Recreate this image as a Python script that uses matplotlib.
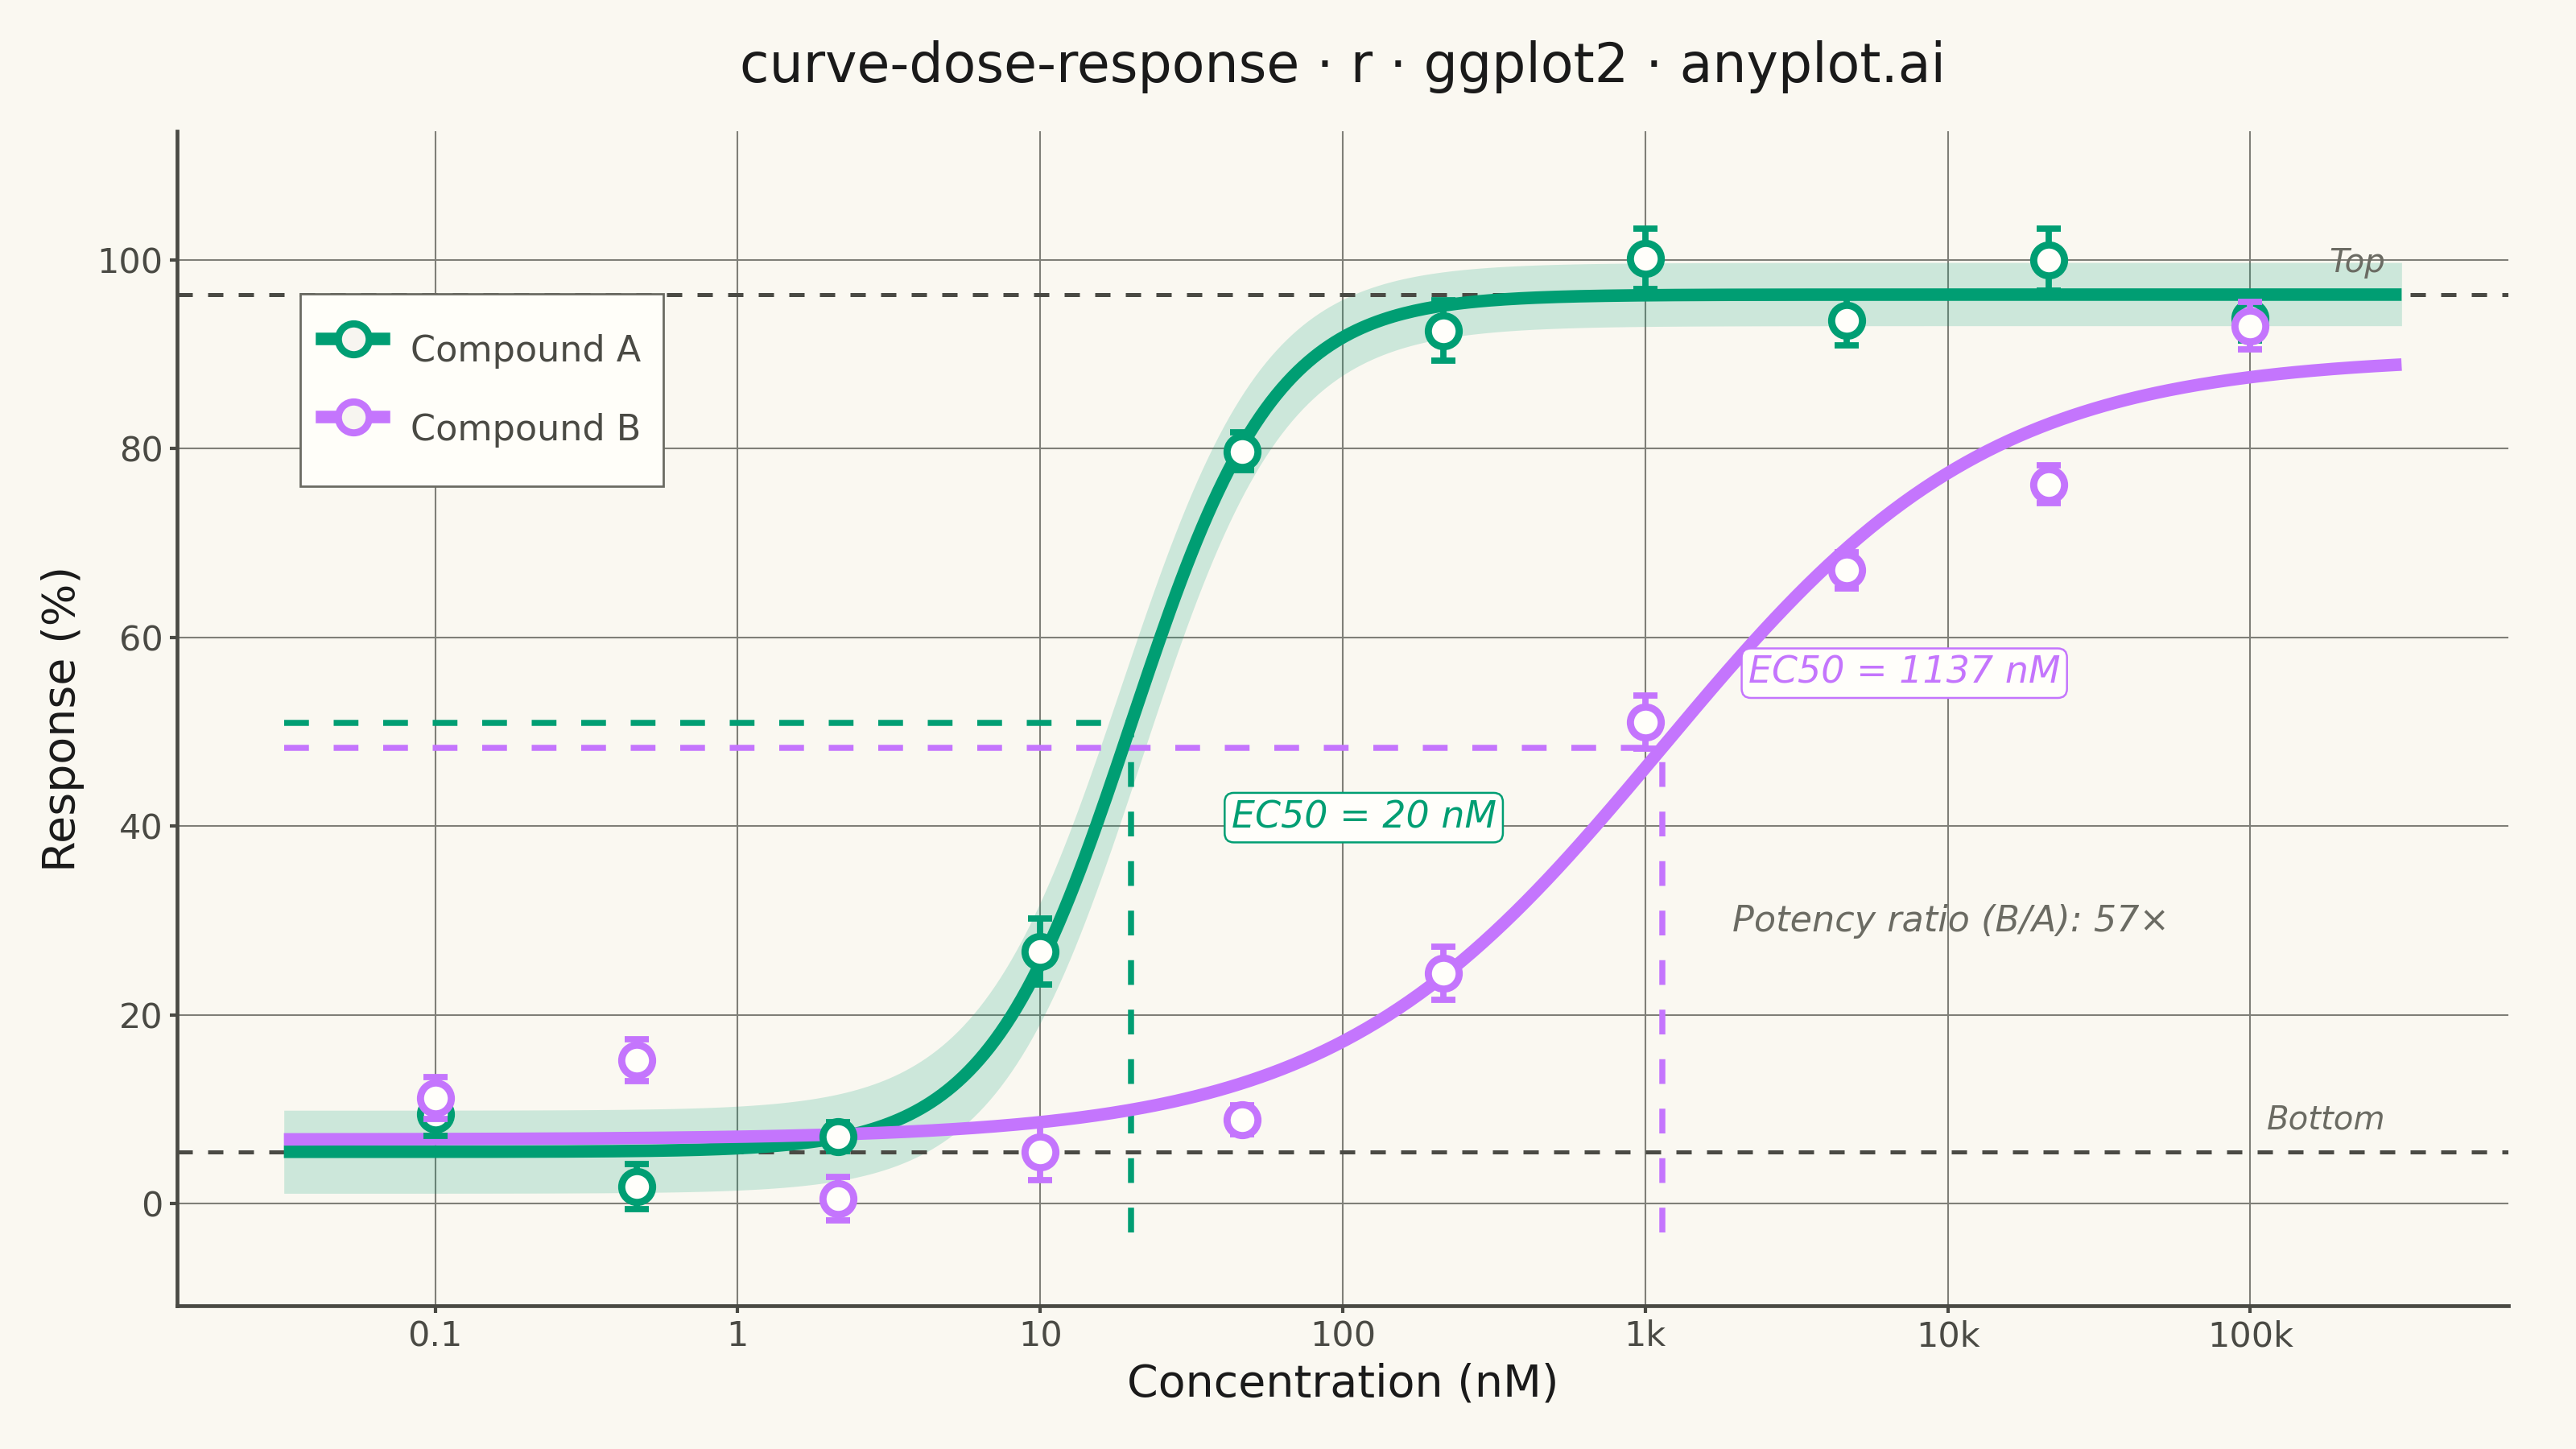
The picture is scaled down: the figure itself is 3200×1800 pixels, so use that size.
import numpy as np
import matplotlib
matplotlib.use("Agg")
import matplotlib.pyplot as plt
from matplotlib.lines import Line2D

# measured data (mean +- sem), concentrations in nM
conc = [0.1, 0.464, 2.15, 10, 46.4, 215, 1000, 4640, 21500, 100000]
resp_a = [9.5, 1.8, 7.1, 26.7, 79.7, 92.5, 100.1, 93.6, 100.0, 93.8]
err_a = [2.3, 2.4, 1.5, 3.5, 2.0, 3.2, 3.2, 2.7, 3.3, 2.4]
resp_b = [11.2, 15.2, 0.5, 5.5, 8.9, 24.4, 51.0, 67.1, 76.2, 93.0]
err_b = [2.2, 2.2, 2.3, 3.0, 1.5, 2.8, 2.8, 1.9, 2.0, 2.5]

# fitted 4PL parameters: bottom, top, ec50 (nM), hill slope
fit_a = [5.5, 96.3, 20.0, 1.83]
fit_b = [6.8, 89.8, 1137.0, 0.80]
# 95% band for compound A: (bottom, top, ec50) of lower / upper edges
band_lo_a = [1.1, 93.0, 21.6]
band_hi_a = [9.9, 99.7, 18.5]

curve_range = [10 ** -1.5, 10 ** 5.5]
xtick_vals = [0.1, 1, 10, 100, 1000, 10000, 100000]
xtick_labels = ["0.1", "1", "10", "100", "1k", "10k", "100k"]
ytick_vals = [0, 20, 40, 60, 80, 100]

GREEN = "#009E73"
PURPLE = "#C475FD"
BG = "#FAF8F1"
INK = "#1A1A1A"
SOFT = "#4A4A44"
MUTED = "#6B6B63"


def four_pl(x, bottom, top, ec50, hill):
    return bottom + (top - bottom) / (1 + (ec50 / x) ** hill)


plt.rcParams["font.family"] = ["DejaVu Sans"]

fig = plt.figure(figsize=(16, 9), dpi=200, facecolor=BG)
ax = fig.add_axes([0.06875, 0.0989, 0.905, 0.8105])
ax.set_facecolor(BG)

xs = np.logspace(np.log10(curve_range[0]), np.log10(curve_range[1]), 400)

# confidence band (A only)
lo = four_pl(xs, band_lo_a[0], band_lo_a[1], band_lo_a[2], fit_a[3])
hi = four_pl(xs, band_hi_a[0], band_hi_a[1], band_hi_a[2], fit_a[3])
ax.fill_between(xs, lo, hi, color=GREEN, alpha=0.18, lw=0, zorder=2)

# top / bottom asymptotes
for yv, lab in [(fit_a[1], "Top"), (fit_a[0], "Bottom")]:
    ax.axhline(yv, color=SOFT, lw=1.8, ls=(0, (3.8, 3.8)), zorder=3)
    ax.text(2.8e5, yv + 3.4, lab, ha="right", va="center", fontsize=14.5,
            style="italic", color=MUTED, zorder=6)

# EC50 reference lines
y_floor = -3
for fit, col in [(fit_a, GREEN), (fit_b, PURPLE)]:
    mid = (fit[0] + fit[1]) / 2
    ax.plot([curve_range[0], fit[2]], [mid, mid], color=col, lw=2.7,
            ls=(0, (4.1, 4.1)), zorder=3)
    ax.plot([fit[2], fit[2]], [y_floor, mid], color=col, lw=2.7,
            ls=(0, (4.1, 4.1)), zorder=3)

# fitted curves
ax.plot(xs, four_pl(xs, *fit_a), color=GREEN, lw=5.6, zorder=4,
        solid_capstyle="butt")
ax.plot(xs, four_pl(xs, *fit_b), color=PURPLE, lw=5.6, zorder=4,
        solid_capstyle="butt")

# observed points
for resp, err, col, z in [(resp_a, err_a, GREEN, 5), (resp_b, err_b, PURPLE, 5.5)]:
    ax.errorbar(conc, resp, yerr=err, fmt="none", ecolor=col, elinewidth=2.8,
                capsize=5.4, capthick=2.8, zorder=z)
    ax.plot(conc, resp, "o", ms=13.8, mfc="#FFFEFA", mec=col, mew=3.2,
            ls="none", zorder=z + 0.2)

# EC50 labels
ax.annotate("EC50 = 20 nM", (fit_a[2] * 2.0, 40.9), xytext=(4, 0),
            textcoords="offset points", ha="left", va="center",
            fontsize=16.5, style="italic", color=GREEN, zorder=7,
            bbox=dict(boxstyle="round,pad=0.18,rounding_size=0.25",
                      fc="#FFFEFA", ec=GREEN, lw=0.9))
ax.annotate("EC50 = 1137 nM", (fit_b[2] * 1.8, 56.2), xytext=(4, 0),
            textcoords="offset points", ha="left", va="center",
            fontsize=16.5, style="italic", color=PURPLE, zorder=7,
            bbox=dict(boxstyle="round,pad=0.18,rounding_size=0.25",
                      fc="#FFFEFA", ec=PURPLE, lw=0.9))
ratio = fit_b[2] / fit_a[2]
ax.text(1945, 29.9, "Potency ratio (B/A): %d\u00d7" % round(ratio),
        ha="left", va="center", fontsize=16, style="italic", color=MUTED,
        zorder=7)

# axes styling
ax.set_xscale("log")
ax.set_xlim(10 ** -1.853, 10 ** 5.853)
ax.set_ylim(-10.8, 113.6)
ax.set_xticks(xtick_vals)
ax.set_xticklabels(xtick_labels)
ax.xaxis.set_minor_locator(matplotlib.ticker.NullLocator())
ax.set_yticks(ytick_vals)
ax.grid(True, which="major", color="#7F7F78", lw=0.75, zorder=1)
ax.set_axisbelow(True)
for side in ["top", "right"]:
    ax.spines[side].set_visible(False)
for side in ["left", "bottom"]:
    ax.spines[side].set_color(SOFT)
    ax.spines[side].set_linewidth(1.7)
ax.tick_params(axis="both", which="major", length=3.2, width=1.5,
               color=SOFT, labelcolor=SOFT, labelsize=15.5, pad=3)
ax.set_xlabel("Concentration (nM)", fontsize=20, color=INK, labelpad=4)
ax.set_ylabel("Response (%)", fontsize=20, color=INK, labelpad=5.5)

fig.text(0.5214, 0.954, "curve-dose-response \u00b7 r \u00b7 ggplot2 \u00b7 anyplot.ai",
         ha="center", va="center", fontsize=24, color=INK)

handles = [
    Line2D([], [], color=GREEN, lw=5.6, marker="o", ms=13.8, mfc="#F7F5F0",
           mec=GREEN, mew=3.2),
    Line2D([], [], color=PURPLE, lw=5.6, marker="o", ms=13.8, mfc="#F7F5F0",
           mec=PURPLE, mew=3.2),
]
leg = ax.legend(handles, ["Compound A", "Compound B"], loc="upper left",
                bbox_to_anchor=(0.0528, 0.8616), borderaxespad=0,
                fontsize=16, frameon=True, fancybox=False, borderpad=0.62,
                labelspacing=0.26, handleheight=2.6, handlelength=1.73,
                handletextpad=0.74)
leg.get_frame().set_facecolor("#FFFEF9")
leg.get_frame().set_edgecolor(MUTED)
leg.get_frame().set_linewidth(1.0)
leg.get_frame().set_alpha(1)
for t in leg.get_texts():
    t.set_color(SOFT)
leg.set_zorder(8)

fig.savefig("out.png", dpi=200, facecolor=BG)
